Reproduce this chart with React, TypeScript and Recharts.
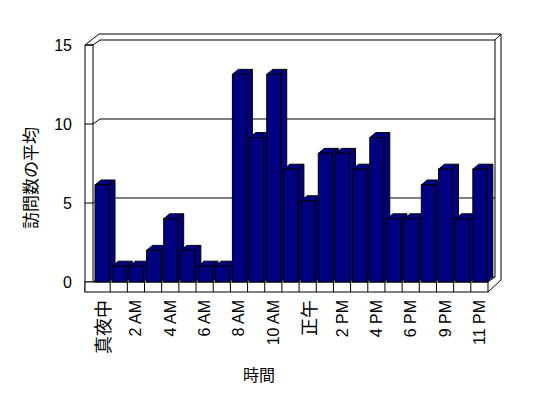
import { BarChart, Bar, XAxis, YAxis, CartesianGrid } from 'recharts';

// 時間帯 (7 PM has no row in the source data)
const hours = [
  '真夜中', '1 AM', '2 AM', '3 AM', '4 AM', '5 AM', '6 AM', '7 AM', '8 AM', '9 AM', '10 AM', '11 AM',
  '正午', '1 PM', '2 PM', '3 PM', '4 PM', '5 PM', '6 PM', '8 PM', '9 PM', '10 PM', '11 PM',
];
const visits = [
  6.14, 1, 1, 2, 4, 2, 1, 1, 13.14, 9.14, 13.14, 7.14,
  5.14, 8.14, 8.14, 7.14, 9.14, 4, 4, 6.14, 7.14, 4, 7.14,
];
const yTicks = [0, 5, 10, 15];

const data = hours.map((name, i) => ({ name, visits: visits[i] }));

const FONT = '"Noto Sans CJK JP", "Liberation Sans", sans-serif';
const LATIN = '"Liberation Sans", Arial, sans-serif';
const NAVY = '#000080';
// depth offset of the 3D look
const DX = 7;
const DY = -5;
const BAR_DX = 6;

function Bar3D(props: any) {
  const { x, y, width, height } = props;
  if (width == null || height == null) return null;
  const top = `${x},${y} ${x + BAR_DX},${y + DY} ${x + width + BAR_DX},${y + DY} ${x + width},${y}`;
  const side = `${x + width},${y} ${x + width + BAR_DX},${y + DY} ${x + width + BAR_DX},${y + height + DY} ${x + width},${y + height}`;
  return (
    <g>
      <polygon points={side} fill={NAVY} stroke="#000" strokeWidth={1} />
      <polygon points={top} fill={NAVY} stroke="#000" strokeWidth={1} />
      <rect x={x} y={y} width={width} height={height} fill={NAVY} stroke="#000" strokeWidth={1} />
    </g>
  );
}

function WallLine(props: any) {
  const { x1, x2, y1, index } = props;
  const top = props.y;
  const bottom = props.y + props.height;
  const L = x1 - 8;
  const line = (
    <polyline
      points={`${L},${y1} ${x1},${y1} ${x1 + DX},${y1 + DY} ${x2 + DX},${y1 + DY}`}
      fill="none"
      stroke="#000"
    />
  );
  if (index !== 0) return <g key={`w-${index}`}>{line}</g>;

  const F = bottom + 10;
  const OX = x2 + DX + 6;
  const OY = top + DY - 6;
  const band = (x2 - x1) / visits.length;
  const dividers = visits.slice(1).map((_, k) => x1 + band * (k + 1));
  return (
    <g key={`w-${index}`}>
      {line}
      <polyline
        points={`${L},${F} ${L},${top} ${x1 + DX - 1},${OY} ${OX},${OY} ${OX},${bottom - 2} ${x2},${F}`}
        fill="none"
        stroke="#000"
      />
      <line x1={x1} y1={top} x2={x1} y2={bottom} stroke="#000" />
      <polyline points={`${L},${top} ${x1},${top}`} fill="none" stroke="#000" />
      <polyline
        points={`${x2 + DX},${top + DY} ${OX},${OY}`}
        fill="none"
        stroke="#000"
      />
      <polyline
        points={`${x2 + DX},${top + DY} ${x2 + DX},${bottom + DY} ${x2},${bottom}`}
        fill="none"
        stroke="#000"
      />
      <rect x={L} y={bottom} width={x2 - L} height={10} fill="#fff" stroke="#000" />
      {dividers.map((dx, k) => (
        <line key={k} x1={dx} y1={bottom} x2={dx} y2={F} stroke="#000" />
      ))}
    </g>
  );
}

function XTick(props: any) {
  const { x, y, payload } = props;
  const cjk = /[^\x00-\x7f]/.test(String(payload.value));
  return (
    <text
      x={x}
      y={y}
      transform={`rotate(-90, ${x}, ${y})`}
      textAnchor="end"
      dominantBaseline="central"
      fontSize={cjk ? 18 : 16}
      fill="#000"
      fontFamily={cjk ? FONT : LATIN}
    >
      {payload.value}
    </text>
  );
}

export default function App() {
  return (
    <div style={{ position: 'absolute', left: 0, top: 0, background: '#fff' }}>
      <BarChart
        width={548}
        height={398}
        data={data}
        margin={{ top: 45, right: 60, left: 33, bottom: 16 }}
        barSize={14}
      >
        <CartesianGrid horizontal={WallLine} vertical={false} />
        <XAxis
          dataKey="name"
          interval={1}
          height={100}
          axisLine={false}
          tickLine={false}
          tickSize={0}
          tickMargin={18}
          tick={XTick}
          label={{
            content: () => (
              <text x={259} y={374} textAnchor="middle" dominantBaseline="central" fontSize={16} fontFamily={FONT} fill="#000">
                時間
              </text>
            ),
          }}
        />
        <YAxis
          width={60}
          domain={[0, 15]}
          ticks={yTicks}
          axisLine={false}
          tickLine={false}
          tickSize={0}
          tickMargin={21}
          tick={{ fontSize: 16, fill: '#000', fontFamily: LATIN }}
          label={{
            content: () => (
              <text
                x={29}
                y={178}
                transform="rotate(-90, 29, 178)"
                textAnchor="middle"
                dominantBaseline="central"
                fontSize={17}
                fontFamily={FONT}
                fill="#000"
              >
                訪問数の平均
              </text>
            ),
          }}
        />
        <Bar dataKey="visits" shape={Bar3D} isAnimationActive={false} />
      </BarChart>
    </div>
  );
}
